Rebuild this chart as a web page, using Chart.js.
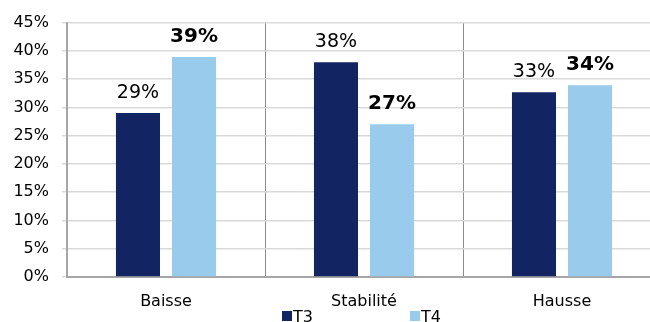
<!DOCTYPE html>
<html>
<head>
<meta charset="utf-8">
<script src="https://cdn.jsdelivr.net/npm/chart.js@4.4.1/dist/chart.umd.min.js"></script>
<style>
  body { margin: 0; background: #fff; overflow: hidden; }
  #wrap { width: 650px; height: 322px; overflow: hidden; }
</style>
</head>
<body>
<div id="wrap">
  <canvas id="chart" width="661" height="332"></canvas>
</div>
<script>
// DATA
const categories = ["Baisse", "Stabilité", "Hausse"];
const seriesNames = ["T3", "T4"];
const t3Values = [29, 38, 32.7];
const t4Values = [38.9, 27, 33.9];
const yMax = 45;
const yStep = 5;

const FONT = "'DejaVu Sans', Verdana, sans-serif";

// DATA LABELS ABOVE BARS (T4 in bold)
const barLabels = {
    id: "barLabels",
    afterDatasetsDraw(chart) {
        const ctx = chart.ctx;
        ctx.save();
        ctx.fillStyle = "#000";
        ctx.textAlign = "center";
        ctx.textBaseline = "alphabetic";
        chart.data.datasets.forEach((ds, i) => {
            const meta = chart.getDatasetMeta(i);
            ctx.font = (i === 1 ? "bold 20px " : "19px ") + FONT;
            meta.data.forEach((bar, j) => {
                ctx.fillText(Math.round(ds.data[j]) + "%", bar.x, bar.y - 15);
            });
        });
        ctx.restore();
    }
};

// LEGEND (small squares under the axis)
const bottomLegend = {
    id: "bottomLegend",
    afterDraw(chart) {
        const ctx = chart.ctx;
        const area = chart.chartArea;
        const offsets = [215, 343];
        ctx.save();
        ctx.font = "16px " + FONT;
        ctx.textBaseline = "alphabetic";
        ctx.textAlign = "left";
        chart.data.datasets.forEach((ds, i) => {
            const x = area.left + offsets[i];
            const y = area.bottom + 34;
            ctx.fillStyle = ds.backgroundColor;
            ctx.fillRect(x, y, 10, 10);
            ctx.fillStyle = "#000";
            ctx.fillText(ds.label, x + 11, y + 11);
        });
        ctx.restore();
    }
};

const ctx = document.getElementById("chart").getContext("2d");
new Chart(ctx, {
    type: "bar",
    data: {
        labels: categories,
        datasets: [
            { label: seriesNames[0], data: t3Values, backgroundColor: "#132462" },
            { label: seriesNames[1], data: t4Values, backgroundColor: "#98CBEC" }
        ]
    },
    options: {
        responsive: false,
        animation: false,
        devicePixelRatio: 1,
        layout: { padding: { top: 20, left: 0, right: 0, bottom: 0 } },
        datasets: {
            bar: { barPercentage: 0.786, categoryPercentage: 0.566, borderWidth: 0 }
        },
        plugins: {
            legend: { display: false },
            tooltip: { enabled: false }
        },
        scales: {
            x: {
                afterFit(scale) { scale.height = 55; },
                grid: { color: "#8c8c8c", lineWidth: 1, drawTicks: false, offset: true },
                border: { color: "#a6a6a6", width: 2 },
                ticks: { color: "#000", font: { family: FONT, size: 16 }, padding: 15 }
            },
            y: {
                min: 0,
                max: yMax,
                afterFit(scale) { scale.width = 67; },
                grid: { color: "#d9d9d9", lineWidth: 1.5, tickLength: 5, tickColor: "#d9d9d9" },
                border: { color: "#a6a6a6", width: 2 },
                ticks: {
                    stepSize: yStep,
                    color: "#000",
                    padding: 13,
                    font: { family: FONT, size: 16 },
                    callback: v => v + "%"
                }
            }
        }
    },
    plugins: [barLabels, bottomLegend]
});
</script>
</body>
</html>
